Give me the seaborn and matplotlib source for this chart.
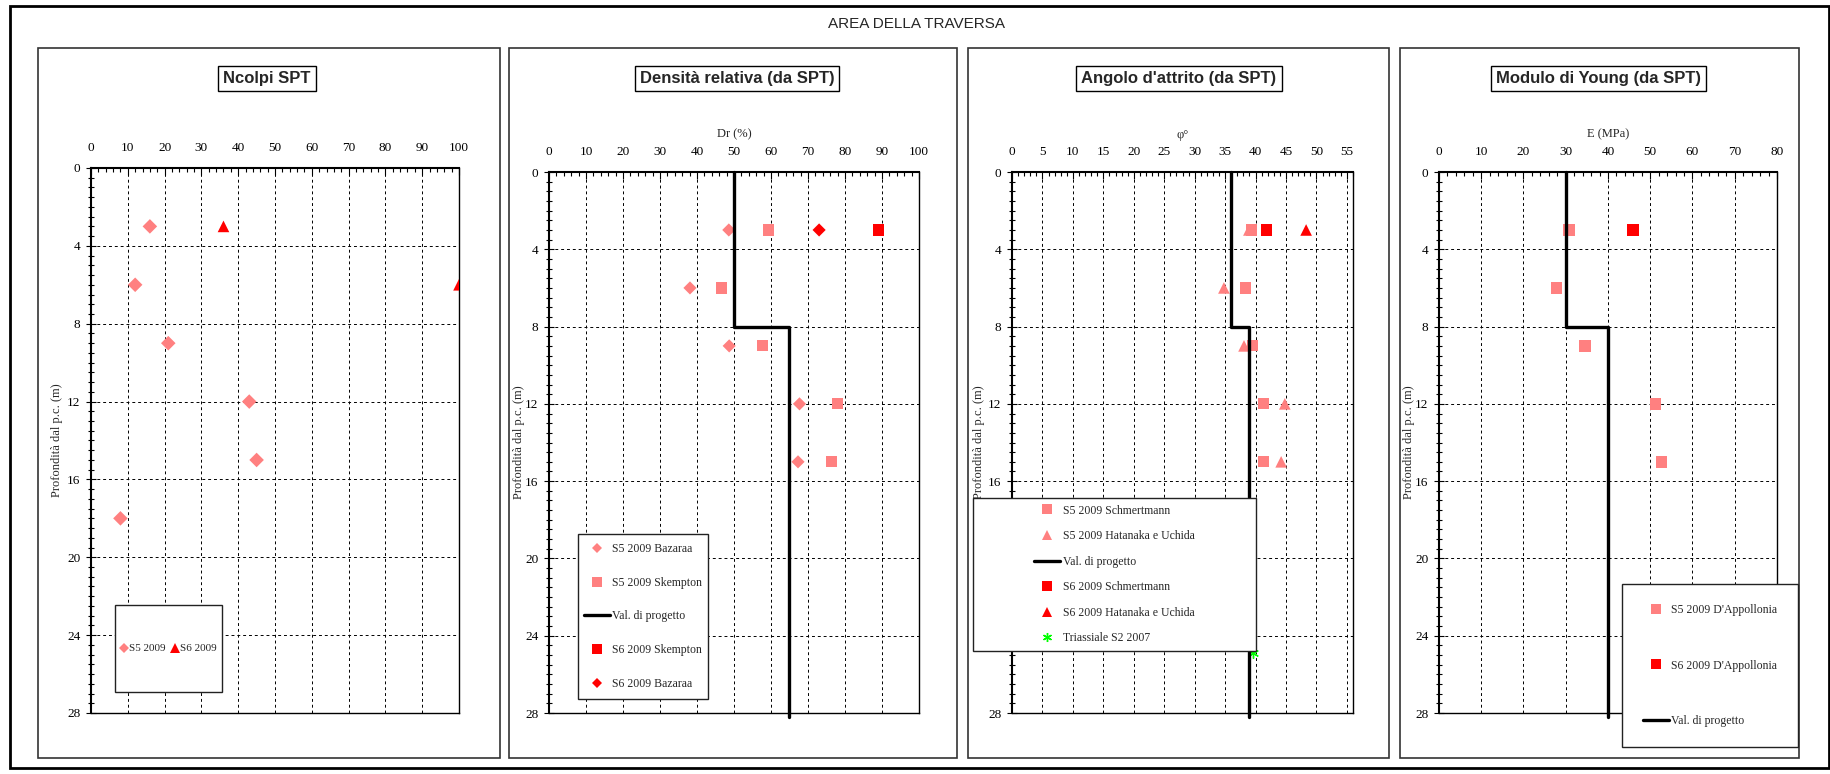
import matplotlib
matplotlib.use('Agg')
import matplotlib.pyplot as plt
import seaborn as sns
from matplotlib.lines import Line2D
from matplotlib.patches import Rectangle
from matplotlib.ticker import MultipleLocator

# ---- data ----
depth_s5 = [3, 6, 9, 12, 15, 18]
ncolpi_s5 = [16, 12, 21, 43, 45, 8]
depth_s6 = [3, 6]
ncolpi_s6 = [36, 100]

depth_spt = [3, 6, 9, 12, 15]
depth_s6_single = [3]
design_depth = [0, 8, 8, 28.2]

dr_s5_bazaraa = [48.6, 38.1, 48.7, 67.7, 67.3]
dr_s5_skempton = [59.4, 46.7, 57.7, 78.0, 76.4]
dr_s6_skempton = [89.1]
dr_s6_bazaraa = [73.0]
dr_design = [50, 50, 65, 65]

phi_s5_schm = [39.3, 38.4, 39.5, 41.3, 41.3]
phi_s5_hat = [38.9, 34.8, 38.1, 44.8, 44.2]
phi_s6_schm = [41.8]
phi_s6_hat = [48.3]
phi_triax = [39.6]
depth_triax = [24.9]
phi_design = [36, 36, 39, 39]

e_s5 = [30.8, 27.8, 34.6, 51.2, 52.7]
e_s6 = [45.9]
e_design = [30, 30, 40, 40]

C_S5 = '#FF8080'
C_S6 = '#FF0000'
C_TRX = '#00FF00'

W, H = 1831, 774

sns.set_style('white')
plt.rcParams['font.family'] = ['Liberation Serif', 'DejaVu Serif']

fig = plt.figure(figsize=(W / 100, H / 100), dpi=100)


def frac(x0, y0, x1, y1):
    return (x0 / W, 1 - y1 / H, (x1 - x0) / W, (y1 - y0) / H)


def frame(x0, y0, x1, y1, lw, color):
    fx, fy, fw, fh = frac(x0, y0, x1, y1)
    fig.patches.append(Rectangle((fx, fy), fw, fh, transform=fig.transFigure,
                                 fill=False, lw=lw, edgecolor=color, zorder=1))


def make_axes(box, xmax, xmajor, xminor, xlabel, ylabel_px):
    ax = fig.add_axes(frac(*box))
    ax.set_xlim(0, xmax)
    ax.set_ylim(28, 0)
    ax.xaxis.tick_top()
    ax.xaxis.set_label_position('top')
    ax.xaxis.set_major_locator(MultipleLocator(xmajor))
    ax.xaxis.set_minor_locator(MultipleLocator(xminor))
    ax.yaxis.set_major_locator(MultipleLocator(4))
    ax.yaxis.set_minor_locator(MultipleLocator(0.5))
    ax.tick_params(axis='x', which='both', direction='in', top=True, bottom=False,
                   labelsize=9.5, pad=10, colors='k')
    ax.tick_params(axis='x', which='major', length=5, width=0.8)
    ax.tick_params(axis='x', which='minor', length=3, width=0.8)
    ax.tick_params(axis='y', which='both', direction='inout', left=True, labelsize=9.5,
                   pad=4, colors='k')
    ax.tick_params(axis='y', which='major', length=7, width=0.8)
    ax.tick_params(axis='y', which='minor', length=4, width=0.8)
    ax.grid(True, which='major', color='k', ls=(0, (3, 3)), lw=0.7)
    for name, sp in ax.spines.items():
        sp.set_visible(True)
        sp.set_color('k')
        sp.set_linewidth(1.5 if name in ('left', 'top') else 1.0)
    ax.set_xlabel(xlabel, fontsize=9, labelpad=6)
    ax.set_ylabel('Profondità dal p.c. (m)', fontsize=9)
    ax.yaxis.set_label_coords((ylabel_px - box[0]) / (box[2] - box[0]), 0.5)
    return ax


def scatter(ax, x, y, marker, color, size):
    sns.scatterplot(x=x, y=y, marker=marker, color=color, s=size, edgecolor='none',
                    linewidth=0, ax=ax, legend=False, zorder=3)


def design(ax, x):
    sns.lineplot(x=x, y=design_depth, sort=False, estimator=None, color='k', lw=2.4,
                 ax=ax, legend=False, zorder=4)
    ax.lines[-1].set_clip_on(False)


def add_legend(box, handles, labels, size=8.5, **kw):
    fx, fy, fw, fh = frac(*box)
    fig.patches.append(Rectangle((fx, fy), fw, fh, transform=fig.transFigure,
                                 facecolor='white', edgecolor='#222222', lw=1.0, zorder=10))
    leg = fig.legend(handles, labels, loc='center', bbox_to_anchor=(fx, fy, fw, fh),
                     frameon=False, prop={'size': size}, borderaxespad=0, borderpad=0, **kw)
    leg.set_zorder(11)


def mk(marker, color, size=6.5):
    return Line2D([], [], marker=marker, color=color, ls='none', markersize=size,
                  markeredgewidth=0 if marker != (6, 2, 0) else 1)


line_h = Line2D([], [], color='k', lw=2.4)

# outer frame + main title
frame(10, 6, 1829, 768, 2.0, 'k')
fig.text(917 / W, 1 - 24 / H, 'AREA DELLA TRAVERSA', ha='center', va='center',
         fontsize=11, family=['Liberation Sans', 'DejaVu Sans'])

panels = [(38, 48, 500, 758), (509, 48, 957, 758), (968, 48, 1389, 758), (1400, 48, 1799, 758)]
titles = ['Ncolpi SPT', 'Densità relativa (da SPT)', "Angolo d'attrito (da SPT)",
          'Modulo di Young (da SPT)']
title_x = [267, 737, 1179, 1599]
for p, t, tx in zip(panels, titles, title_x):
    frame(*p, 1.2, '#333333')
    fig.text(tx / W, 1 - 78 / H, t, ha='center', va='center', fontsize=12, weight='bold',
             family=['Liberation Sans', 'DejaVu Sans'],
             bbox=dict(boxstyle='square,pad=0.3', fc='white', ec='k', lw=1))

# ---- panel 1: Ncolpi SPT ----
ax1 = make_axes((91, 168, 459, 713), 100, 10, 2, '', 63)
scatter(ax1, ncolpi_s5, depth_s5, 'D', C_S5, 55)
scatter(ax1, ncolpi_s6, depth_s6, '^', C_S6, 70)
add_legend((115, 605, 222, 692), [mk('D', C_S5, 5), mk('^', C_S6, 6.5)],
           ['S5 2009', 'S6 2009'], size=8, ncol=2, handlelength=0.6, handletextpad=0.15,
           columnspacing=0.6)

# ---- panel 2: densità relativa ----
ax2 = make_axes((549, 172, 919, 713), 100, 10, 2, 'Dr (%)', 525)
design(ax2, dr_design)
scatter(ax2, dr_s5_bazaraa, depth_spt, 'D', C_S5, 45)
scatter(ax2, dr_s5_skempton, depth_spt, 's', C_S5, 65)
scatter(ax2, dr_s6_skempton, depth_s6_single, 's', C_S6, 65)
scatter(ax2, dr_s6_bazaraa, depth_s6_single, 'D', C_S6, 45)
add_legend((578, 534, 708, 699),
           [mk('D', C_S5, 5), mk('s', C_S5), line_h, mk('s', C_S6), mk('D', C_S6, 5)],
           ['S5 2009 Bazaraa', 'S5 2009 Skempton', 'Val. di progetto', 'S6 2009 Skempton',
            'S6 2009 Bazaraa'], labelspacing=1.85, handlelength=2.2, handletextpad=0.2)

# ---- panel 3: angolo d'attrito ----
ax3 = make_axes((1012, 172, 1353, 713), 56, 5, 1, 'φ°', 985)
ax3.set_xticks(range(0, 56, 5))
design(ax3, phi_design)
scatter(ax3, phi_s5_hat, depth_spt, '^', C_S5, 70)
scatter(ax3, phi_s5_schm, depth_spt, 's', C_S5, 65)
scatter(ax3, phi_s6_schm, depth_s6_single, 's', C_S6, 65)
scatter(ax3, phi_s6_hat, depth_s6_single, '^', C_S6, 70)
sns.scatterplot(x=phi_triax, y=depth_triax, marker=(6, 2, 0), color=C_TRX, s=50,
                linewidth=1, ax=ax3, legend=False, zorder=3)
add_legend((973, 498, 1256, 651),
           [mk('s', C_S5), mk('^', C_S5), line_h, mk('s', C_S6), mk('^', C_S6),
            mk((6, 2, 0), C_TRX)],
           ['S5 2009 Schmertmann', 'S5 2009 Hatanaka e Uchida', 'Val. di progetto',
            'S6 2009 Schmertmann', 'S6 2009 Hatanaka e Uchida', 'Triassiale S2 2007'],
           labelspacing=1.15, handlelength=2.2, handletextpad=0.2)

# ---- panel 4: modulo di Young ----
ax4 = make_axes((1439, 172, 1777, 713), 80, 10, 2, 'E (MPa)', 1415)
design(ax4, e_design)
scatter(ax4, e_s5, depth_spt, 's', C_S5, 70)
scatter(ax4, e_s6, depth_s6_single, 's', C_S6, 70)
add_legend((1622, 584, 1798, 747), [mk('s', C_S5), mk('s', C_S6), line_h],
           ["S5 2009 D'Appollonia", "S6 2009 D'Appollonia", 'Val. di progetto'],
           labelspacing=3.7, handlelength=2.2, handletextpad=0.2)

fig.savefig('out.png', dpi=100)
